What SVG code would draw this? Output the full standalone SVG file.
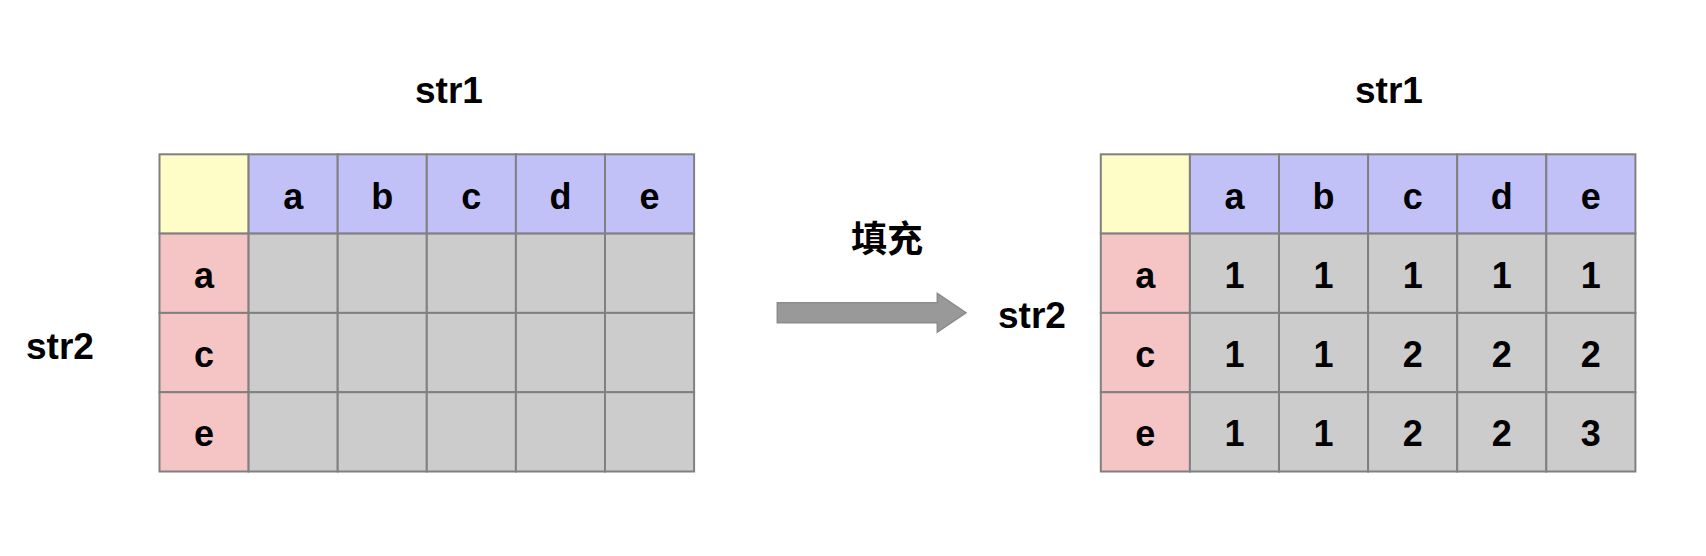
<svg xmlns="http://www.w3.org/2000/svg" width="1706" height="556" viewBox="0 0 1706 556">
<style>
text{font-family:"Liberation Sans","Noto Sans CJK SC",Arial,sans-serif;font-weight:bold;fill:#000;text-anchor:middle}
.lbl{font-size:37px}
.cell text{font-size:36px}
.cjk{font-family:"Noto Sans CJK SC","Liberation Sans",sans-serif;font-size:36px}
.cell rect{stroke:#808080;stroke-width:2}
.y{fill:#FEFDC8}.b{fill:#C1C1F8}.p{fill:#F5C4C4}.g{fill:#CCCCCC}
.arrow{fill:#999999;stroke:#8C8C8C;stroke-width:1.5}
</style>
<rect id="background" width="1706" height="556" fill="#ffffff"/>
<g id="left-labels">
<text class="lbl" x="449" y="103">str1</text>
<text class="lbl" x="60" y="359">str2</text>
</g>
<g id="left-grid" class="cell">
<rect class="y" x="159.5" y="154.3" width="89.1" height="79.3"/>
<rect class="b" x="248.6" y="154.3" width="89.1" height="79.3"/>
<rect class="b" x="337.7" y="154.3" width="89.1" height="79.3"/>
<rect class="b" x="426.8" y="154.3" width="89.1" height="79.3"/>
<rect class="b" x="515.9" y="154.3" width="89.1" height="79.3"/>
<rect class="b" x="605" y="154.3" width="89.1" height="79.3"/>
<rect class="p" x="159.5" y="233.6" width="89.1" height="79.3"/>
<rect class="p" x="159.5" y="312.9" width="89.1" height="79.3"/>
<rect class="p" x="159.5" y="392.2" width="89.1" height="79.3"/>
<rect class="g" x="248.6" y="233.6" width="89.1" height="79.3"/>
<rect class="g" x="337.7" y="233.6" width="89.1" height="79.3"/>
<rect class="g" x="426.8" y="233.6" width="89.1" height="79.3"/>
<rect class="g" x="515.9" y="233.6" width="89.1" height="79.3"/>
<rect class="g" x="605" y="233.6" width="89.1" height="79.3"/>
<rect class="g" x="248.6" y="312.9" width="89.1" height="79.3"/>
<rect class="g" x="337.7" y="312.9" width="89.1" height="79.3"/>
<rect class="g" x="426.8" y="312.9" width="89.1" height="79.3"/>
<rect class="g" x="515.9" y="312.9" width="89.1" height="79.3"/>
<rect class="g" x="605" y="312.9" width="89.1" height="79.3"/>
<rect class="g" x="248.6" y="392.2" width="89.1" height="79.3"/>
<rect class="g" x="337.7" y="392.2" width="89.1" height="79.3"/>
<rect class="g" x="426.8" y="392.2" width="89.1" height="79.3"/>
<rect class="g" x="515.9" y="392.2" width="89.1" height="79.3"/>
<rect class="g" x="605" y="392.2" width="89.1" height="79.3"/>
<text x="293.15" y="208.5">a</text>
<text x="382.25" y="208.5">b</text>
<text x="471.35" y="208.5">c</text>
<text x="560.45" y="208.5">d</text>
<text x="649.55" y="208.5">e</text>
<text x="204.05" y="287.8">a</text>
<text x="204.05" y="367">c</text>
<text x="204.05" y="446.4">e</text>
</g>
<g id="fill-label">
<text class="cjk" x="887" y="252">填充</text>
</g>
<g id="connectors">
<polygon class="arrow" points="777.3,302.7 937.3,302.7 937.3,293.3 966,312.7 937.3,332 937.3,322.7 777.3,322.7"/>
</g>
<g id="right-labels">
<text class="lbl" x="1389" y="103">str1</text>
<text class="lbl" x="1032" y="327.5">str2</text>
</g>
<g id="right-grid" class="cell">
<rect class="y" x="1100.8" y="154.3" width="89.1" height="79.3"/>
<rect class="b" x="1189.9" y="154.3" width="89.1" height="79.3"/>
<rect class="b" x="1279" y="154.3" width="89.1" height="79.3"/>
<rect class="b" x="1368.1" y="154.3" width="89.1" height="79.3"/>
<rect class="b" x="1457.2" y="154.3" width="89.1" height="79.3"/>
<rect class="b" x="1546.3" y="154.3" width="89.1" height="79.3"/>
<rect class="p" x="1100.8" y="233.6" width="89.1" height="79.3"/>
<rect class="p" x="1100.8" y="312.9" width="89.1" height="79.3"/>
<rect class="p" x="1100.8" y="392.2" width="89.1" height="79.3"/>
<rect class="g" x="1189.9" y="233.6" width="89.1" height="79.3"/>
<rect class="g" x="1279" y="233.6" width="89.1" height="79.3"/>
<rect class="g" x="1368.1" y="233.6" width="89.1" height="79.3"/>
<rect class="g" x="1457.2" y="233.6" width="89.1" height="79.3"/>
<rect class="g" x="1546.3" y="233.6" width="89.1" height="79.3"/>
<rect class="g" x="1189.9" y="312.9" width="89.1" height="79.3"/>
<rect class="g" x="1279" y="312.9" width="89.1" height="79.3"/>
<rect class="g" x="1368.1" y="312.9" width="89.1" height="79.3"/>
<rect class="g" x="1457.2" y="312.9" width="89.1" height="79.3"/>
<rect class="g" x="1546.3" y="312.9" width="89.1" height="79.3"/>
<rect class="g" x="1189.9" y="392.2" width="89.1" height="79.3"/>
<rect class="g" x="1279" y="392.2" width="89.1" height="79.3"/>
<rect class="g" x="1368.1" y="392.2" width="89.1" height="79.3"/>
<rect class="g" x="1457.2" y="392.2" width="89.1" height="79.3"/>
<rect class="g" x="1546.3" y="392.2" width="89.1" height="79.3"/>
<text x="1234.45" y="208.5">a</text>
<text x="1323.55" y="208.5">b</text>
<text x="1412.65" y="208.5">c</text>
<text x="1501.75" y="208.5">d</text>
<text x="1590.85" y="208.5">e</text>
<text x="1145.35" y="287.8">a</text>
<text x="1145.35" y="367">c</text>
<text x="1145.35" y="446.4">e</text>
<text x="1234.45" y="287.8">1</text>
<text x="1323.55" y="287.8">1</text>
<text x="1412.65" y="287.8">1</text>
<text x="1501.75" y="287.8">1</text>
<text x="1590.85" y="287.8">1</text>
<text x="1234.45" y="367">1</text>
<text x="1323.55" y="367">1</text>
<text x="1412.65" y="367">2</text>
<text x="1501.75" y="367">2</text>
<text x="1590.85" y="367">2</text>
<text x="1234.45" y="446.4">1</text>
<text x="1323.55" y="446.4">1</text>
<text x="1412.65" y="446.4">2</text>
<text x="1501.75" y="446.4">2</text>
<text x="1590.85" y="446.4">3</text>
</g>
</svg>
